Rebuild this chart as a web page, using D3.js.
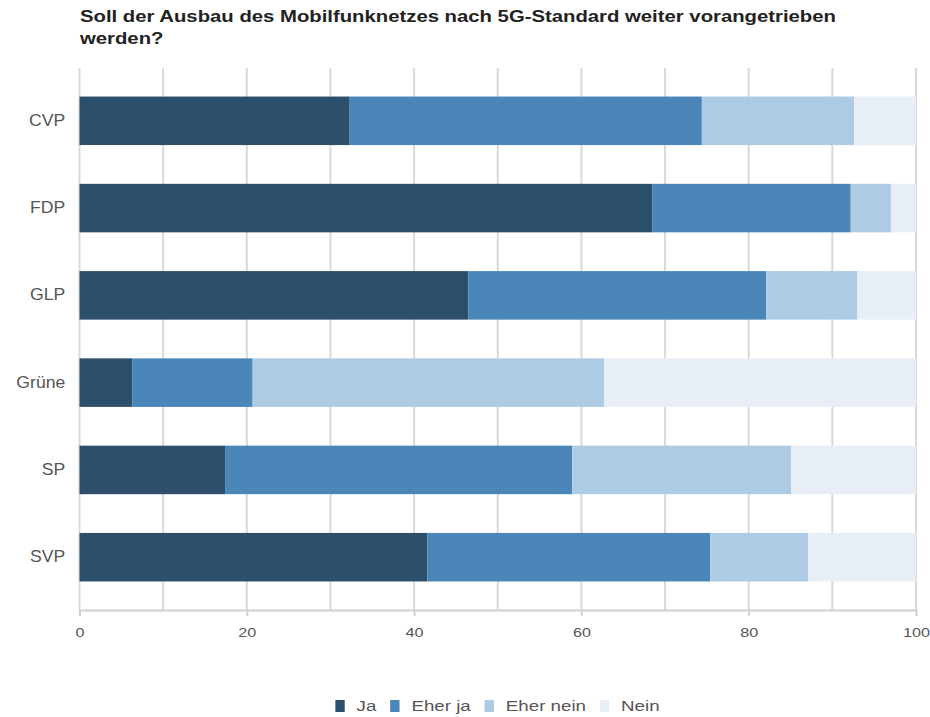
<!DOCTYPE html>
<html>
<head>
<meta charset="utf-8">
<script src="https://cdn.jsdelivr.net/npm/d3@7"></script>
<style>
  html, body { margin: 0; padding: 0; background: #fff; }
  svg { display: block; font-family: "Liberation Sans", Arial, sans-serif; }
</style>
</head>
<body>
<svg id="chart" width="930" height="717"></svg>
<script>
const titleLines = ["Soll der Ausbau des Mobilfunknetzes nach 5G-Standard weiter vorangetrieben", "werden?"];
const parties = ["CVP", "FDP", "GLP", "Grüne", "SP", "SVP"];
const seriesNames = ["Ja", "Eher ja", "Eher nein", "Nein"];
const ja       = [32.3, 68.5, 46.5, 6.3, 17.4, 41.6];
const eherJa   = [42.1, 23.7, 35.6, 14.4, 41.5, 33.8];
const eherNein = [18.2, 4.8, 10.9, 42.0, 26.2, 11.7];
const nein     = [7.4, 3.0, 7.0, 37.3, 14.9, 12.9];
const xTicks = [0, 20, 40, 60, 80, 100];
const gridTicks = [0, 10, 20, 30, 40, 50, 60, 70, 80, 90, 100];
const colors = ["#2c4f6b", "#4a86b7", "#aecbe4", "#e8eef5"];

const rows = parties.map((p, i) => ({ party: p, "Ja": ja[i], "Eher ja": eherJa[i], "Eher nein": eherNein[i], "Nein": nein[i] }));
const stacked = d3.stack().keys(seriesNames)(rows);

const svg = d3.select("#chart");
const x = d3.scaleLinear().domain([0, 100]).range([79.5, 916]);
const y = d3.scaleBand().domain(parties).range([68, 610]).paddingInner(0.444).paddingOuter(0.327);
const color = d3.scaleOrdinal().domain(seriesNames).range(colors);

// title
const title = svg.append("text").attr("transform", "translate(80,22) scale(1.27,1)")
  .attr("font-size", 16).attr("font-weight", "bold").attr("fill", "#222");
titleLines.forEach((t, i) => title.append("tspan").attr("x", 0).attr("dy", i === 0 ? 0 : 22).text(t));

// gridlines
svg.append("g").selectAll("line").data(gridTicks).join("line")
  .attr("x1", d => x(d)).attr("x2", d => x(d))
  .attr("y1", 68).attr("y2", 610)
  .attr("stroke", "#d9d9d9").attr("stroke-width", 2);

// bars
svg.append("g").selectAll("g").data(stacked).join("g")
  .attr("fill", d => color(d.key))
  .selectAll("rect").data(d => d).join("rect")
  .attr("x", d => x(d[0]))
  .attr("width", d => x(d[1]) - x(d[0]))
  .attr("y", d => y(d.data.party))
  .attr("height", y.bandwidth());

// x axis
const xAxis = svg.append("g").attr("transform", "translate(0,610)")
  .call(d3.axisBottom(x).tickValues(xTicks).tickSize(6).tickSizeOuter(0).tickFormat(d3.format("d")));
xAxis.select(".domain").attr("stroke", "#d0d0d0").attr("stroke-width", 2);
xAxis.selectAll(".tick line").attr("stroke", "#d0d0d0").attr("stroke-width", 2);
xAxis.selectAll(".tick text").attr("font-size", 13.5).attr("fill", "#555").attr("dy", "1.3em")
  .attr("transform", "scale(1.2,1)")
  .attr("font-family", "Liberation Sans, Arial, sans-serif");

// y axis labels
const yAxis = svg.append("g").attr("transform", "translate(79.5,0)")
  .call(d3.axisLeft(y).tickSize(0).tickPadding(13));
yAxis.select(".domain").remove();
yAxis.selectAll(".tick text").attr("font-size", 16).attr("fill", "#555")
  .attr("transform", "scale(1.1,1)")
  .attr("font-family", "Liberation Sans, Arial, sans-serif");

// legend
const legend = svg.append("g");
const items = legend.selectAll("g").data(seriesNames).join("g");
items.append("rect").attr("width", 7.5).attr("height", 12).attr("y", -6).attr("fill", d => color(d));
items.append("text").attr("x", 17).attr("dy", "0.35em").attr("font-size", 15).attr("fill", "#555").text(d => d);
const widths = [];
items.each(function() {
  widths.push(17 + this.querySelector("text").getComputedTextLength());
});
const gap = 11;
const total = d3.sum(widths) + gap * (widths.length - 1);
let cx = -total / 2;
items.attr("transform", (d, i) => {
  const t = `translate(${cx},0)`;
  cx += widths[i] + gap;
  return t;
});
legend.attr("transform", "translate(497.5,706) scale(1.25,1)");
</script>
</body>
</html>
